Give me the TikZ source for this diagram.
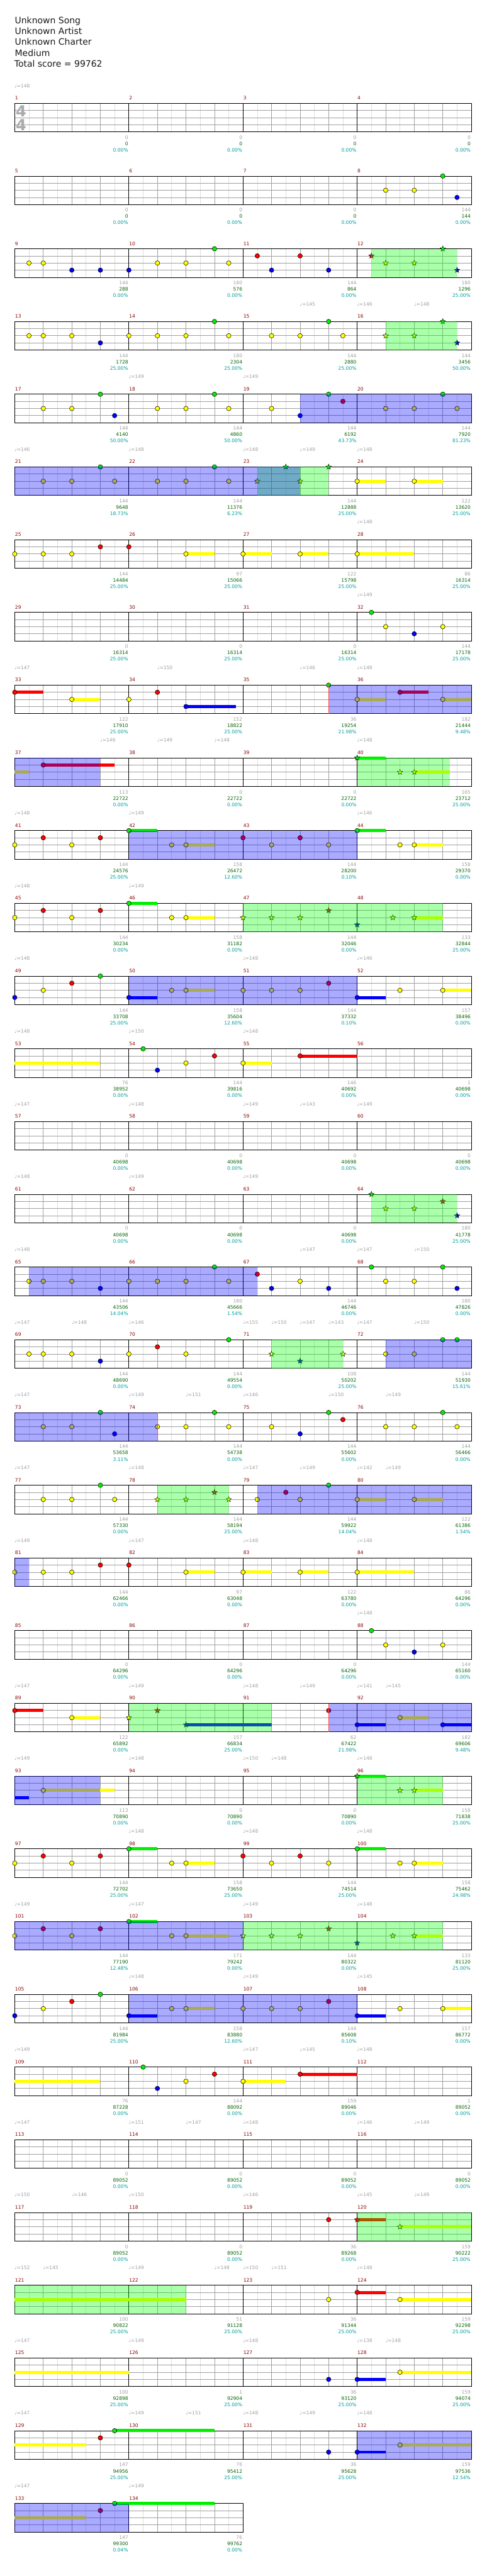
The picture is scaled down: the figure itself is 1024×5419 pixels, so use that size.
\documentclass[tikz,border=0pt]{standalone}
\usepackage{fontspec}
\setmainfont{DejaVu Sans}
\usetikzlibrary{shapes.geometric}
\definecolor{cG}{HTML}{00F000}
\definecolor{cR}{HTML}{FF0000}
\definecolor{cY}{HTML}{FFFF00}
\definecolor{cB}{HTML}{0000FF}
\definecolor{regG}{HTML}{00FF00}
\definecolor{regB}{HTML}{0000FF}
\definecolor{lightc}{HTML}{DDDDDD}
\definecolor{beatc}{HTML}{A0A0A0}
\definecolor{mred}{HTML}{8B0000}
\definecolor{sgray}{HTML}{A0A0A0}
\definecolor{sgreen}{HTML}{006400}
\definecolor{scyan}{HTML}{009C9C}
\definecolor{tsigc}{HTML}{AAAAAA}
\def\lG{0}\def\lR{1}\def\lY{2}\def\lB{3}
\newcommand\mpos[2]{%
  \pgfmathtruncatemacro\mc{mod(#1-1,4)}%
  \pgfmathtruncatemacro\mr{(#1-1)/4}%
  \pgfmathsetmacro\X{31+240*\mc+30*(#2)}%
  \pgfmathsetmacro\T{217.3+153*\mr}}
\newcommand\nt[3]{\mpos{#1}{#2}\pgfmathsetmacro\Y{\T+15*\csname l#3\endcsname}%
  \filldraw[fill=c#3,draw=black,line width=0.7pt] (\X,\Y) circle[radius=4.8];}
\newcommand\su[4]{\mpos{#1}{#2}\pgfmathsetmacro\Y{\T+15*\csname l#4\endcsname}%
  \fill[c#4] (\X,\Y-3.3) rectangle ++(30*#3,6.6);}
\newcommand\ns[4]{\su{#1}{#2}{#3}{#4}\nt{#1}{#2}{#4}}
\newcommand\st[3]{\mpos{#1}{#2}\pgfmathsetmacro\Y{\T+15*\csname l#3\endcsname}%
  \node[starnote,fill=c#3] at (\X,\Y) {};}
\newcommand\sts[4]{\su{#1}{#2}{#3}{#4}\st{#1}{#2}{#4}}
\newcommand\rgG[3]{\mpos{#1}{#2}\fill[regG,fill opacity=0.3333] (\X,\T) rectangle ++(30*#3,60);}
\newcommand\rgB[3]{\mpos{#1}{#2}\fill[regB,fill opacity=0.3333] (\X,\T) rectangle ++(30*#3,60);}
\newcommand\redl[2]{\mpos{#1}{#2}\draw[red!70,line width=0.8pt] (\X,\T) -- ++(0,60);}
\begin{document}
\begin{tikzpicture}[x=1pt,y=-1pt,
  lightl/.style={lightc,line width=1pt},
  beatl/.style={beatc,line width=1pt},
  barl/.style={black,line width=1pt},
  starnote/.style={star,star points=5,star point ratio=2.4,minimum size=12pt,inner sep=0pt,draw=black,line width=0.6pt},
  small/.style={font=\fontsize{10}{12}\selectfont,inner sep=0pt},
  mnum/.style={small,text=mred,anchor=base west},
  tempo/.style={small,text=sgray,anchor=base west},
  sc1/.style={small,text=sgray,anchor=base east},
  sc2/.style={small,text=sgreen,anchor=base east},
  sc3/.style={small,text=scyan,anchor=base east},
  hdr/.style={font=\fontsize{18.5}{22}\selectfont,inner sep=0pt,anchor=base west,text=black!90},
  tsig/.style={font=\fontsize{32}{34}\selectfont\bfseries,inner sep=0pt,text=tsigc}]
\useasboundingbox (0,0) rectangle (1024,5419);
\fill[white] (0,0) rectangle (1024,5419);
% header
\node[hdr] (title) at (31,49.3) {Unknown Song};
\node[hdr] (artist) at (31,72.2) {Unknown Artist};
\node[hdr] (charter) at (31,95.1) {Unknown Charter};
\node[hdr] (diff) at (31,118) {Medium};
\node[hdr] (total) at (30,140.9) {Total score = 99762};
% staves
\foreach \r in {0,...,33}{
  \pgfmathsetmacro\T{217.3+153*\r}
  \ifnum\r<33
    \foreach \xx in {61,121,...,961} \draw[lightl] (\xx,\T) -- ++(0,60);
    \foreach \xx in {91,151,211,331,391,451,571,631,691,811,871,931} \draw[beatl] (\xx,\T) -- ++(0,60);
    \foreach \yy in {15,30,45} \draw[beatl] (31,\T+\yy) -- (991,\T+\yy);
    \foreach \xx in {271,511,751} \draw[barl] (\xx,\T) -- ++(0,60);
    \draw[barl] (31,\T) rectangle (991,\T+60);
  \else
    \foreach \xx in {61,121,...,481} \draw[lightl] (\xx,\T) -- ++(0,60);
    \foreach \xx in {91,151,211,331,391,451} \draw[beatl] (\xx,\T) -- ++(0,60);
    \foreach \yy in {15,30,45} \draw[beatl] (31,\T+\yy) -- (511,\T+\yy);
    \draw[barl] (271,\T) -- ++(0,60);
    \draw[barl] (31,\T) rectangle (511,\T+60);
  \fi
}
\node[tsig] (ts1) at (44.5,233.5) {4};
\node[tsig] (ts2) at (44.5,263.5) {4};
% notes
\nt{8}{2}{Y}\nt{8}{4}{Y}\nt{8}{6}{G}\nt{8}{7}{B}
\nt{9}{1}{Y}\nt{9}{2}{Y}\nt{9}{4}{B}\nt{9}{6}{B}
\nt{10}{0}{B}\nt{10}{2}{Y}\nt{10}{4}{Y}\nt{10}{6}{G}\nt{10}{7}{Y}
\nt{11}{1}{R}\nt{11}{2}{B}\nt{11}{4}{R}\nt{11}{6}{B}
\st{12}{1}{R}\st{12}{2}{Y}\st{12}{4}{Y}\st{12}{6}{G}\st{12}{7}{B}
\nt{13}{1}{Y}\nt{13}{2}{Y}\nt{13}{4}{Y}\nt{13}{6}{B}
\nt{14}{0}{Y}\nt{14}{2}{Y}\nt{14}{4}{Y}\nt{14}{6}{G}\nt{14}{7}{Y}
\nt{15}{2}{Y}\nt{15}{4}{Y}\nt{15}{6}{G}\nt{15}{7}{Y}
\st{16}{2}{Y}\st{16}{4}{Y}\st{16}{6}{G}\st{16}{7}{B}
\nt{17}{2}{Y}\nt{17}{4}{Y}\nt{17}{6}{G}\nt{17}{7}{B}
\nt{18}{2}{Y}\nt{18}{4}{Y}\nt{18}{6}{G}\nt{18}{7}{Y}
\nt{19}{2}{Y}\nt{19}{4}{B}\nt{19}{6}{G}\nt{19}{7}{R}
\nt{20}{2}{Y}\nt{20}{4}{Y}\nt{20}{6}{G}\nt{20}{7}{Y}
\nt{21}{2}{Y}\nt{21}{4}{Y}\nt{21}{6}{G}\nt{21}{7}{Y}
\nt{22}{2}{Y}\nt{22}{4}{Y}\nt{22}{6}{G}\nt{22}{7}{Y}
\st{23}{1}{Y}\st{23}{3}{G}\st{23}{4}{Y}\st{23}{6}{G}
\ns{24}{0}{2}{Y}\ns{24}{4}{2}{Y}
\nt{25}{0}{Y}\nt{25}{2}{Y}\nt{25}{4}{Y}\nt{25}{6}{R}
\nt{26}{0}{R}\ns{26}{4}{2}{Y}
\ns{27}{0}{2}{Y}\ns{27}{4}{2}{Y}
\ns{28}{0}{4}{Y}
\nt{32}{1}{G}\nt{32}{2}{Y}\nt{32}{4}{B}\nt{32}{6}{Y}
\ns{33}{0}{2}{R}\ns{33}{4}{2}{Y}
\nt{34}{0}{Y}\nt{34}{2}{R}\ns{34}{4}{3.5}{B}
\nt{35}{6}{G}
\ns{36}{0}{2}{Y}\ns{36}{3}{2}{R}\ns{36}{6}{2}{Y}
\su{37}{0}{1}{Y}\ns{37}{2}{5}{R}
\sts{40}{0}{2}{G}\st{40}{3}{Y}\sts{40}{4}{2.5}{Y}
\nt{41}{0}{Y}\nt{41}{2}{R}\nt{41}{4}{Y}\nt{41}{6}{R}
\ns{42}{0}{2}{G}\nt{42}{3}{Y}\ns{42}{4}{2}{Y}
\nt{43}{0}{R}\nt{43}{2}{Y}\nt{43}{4}{R}\nt{43}{6}{Y}
\ns{44}{0}{2}{G}\nt{44}{3}{Y}\ns{44}{4}{2}{Y}
\nt{45}{0}{Y}\nt{45}{2}{R}\nt{45}{4}{Y}\nt{45}{6}{R}
\ns{46}{0}{2}{G}\nt{46}{3}{Y}\ns{46}{4}{2}{Y}
\st{47}{0}{Y}\st{47}{2}{Y}\st{47}{4}{Y}\st{47}{6}{R}
\st{48}{0}{B}\st{48}{2.5}{Y}\sts{48}{4}{2}{Y}
\nt{49}{0}{B}\nt{49}{2}{Y}\nt{49}{4}{R}\nt{49}{6}{G}
\ns{50}{0}{2}{B}\nt{50}{3}{Y}\ns{50}{4}{2}{Y}
\nt{51}{0}{Y}\nt{51}{2}{Y}\nt{51}{4}{Y}\nt{51}{6}{R}
\ns{52}{0}{2}{B}\nt{52}{3}{Y}\ns{52}{6}{2}{Y}
\su{53}{0}{6}{Y}
\nt{54}{1}{G}\nt{54}{2}{B}\nt{54}{4}{Y}\nt{54}{6}{R}
\ns{55}{0}{2}{Y}\ns{55}{4}{4}{R}
\st{64}{1}{G}\st{64}{2}{Y}\st{64}{4}{Y}\st{64}{6}{R}\st{64}{7}{B}
\nt{65}{1}{Y}\nt{65}{2}{Y}\nt{65}{4}{Y}\nt{65}{6}{B}
\nt{66}{0}{Y}\nt{66}{2}{Y}\nt{66}{4}{Y}\nt{66}{6}{G}\nt{66}{7}{Y}
\nt{67}{1}{R}\nt{67}{2}{B}\nt{67}{4}{Y}\nt{67}{6}{B}
\nt{68}{1}{G}\nt{68}{2}{Y}\nt{68}{4}{Y}\nt{68}{6}{G}\nt{68}{7}{B}
\nt{69}{1}{Y}\nt{69}{2}{Y}\nt{69}{4}{Y}\nt{69}{6}{B}
\nt{70}{0}{Y}\nt{70}{2}{R}\nt{70}{4}{Y}\nt{70}{7}{G}
\st{71}{2}{Y}\st{71}{4}{B}\st{71}{7}{Y}
\nt{72}{2}{Y}\nt{72}{4}{Y}\nt{72}{6}{G}\nt{72}{7}{G}
\nt{73}{2}{Y}\nt{73}{4}{Y}\nt{73}{6}{G}\nt{73}{7}{B}
\nt{74}{2}{Y}\nt{74}{4}{Y}\nt{74}{6}{G}\nt{74}{7}{Y}
\nt{75}{2}{Y}\nt{75}{4}{B}\nt{75}{6}{G}\nt{75}{7}{R}
\nt{76}{2}{Y}\nt{76}{4}{Y}\nt{76}{6}{G}\nt{76}{7}{Y}
\nt{77}{2}{Y}\nt{77}{4}{Y}\nt{77}{6}{G}\nt{77}{7}{Y}
\st{78}{2}{Y}\st{78}{4}{Y}\st{78}{6}{R}\st{78}{7}{Y}
\nt{79}{1}{Y}\nt{79}{3}{R}\nt{79}{4}{Y}\nt{79}{6}{G}
\ns{80}{0}{2}{Y}\ns{80}{4}{2}{Y}
\nt{81}{0}{Y}\nt{81}{2}{Y}\nt{81}{4}{Y}\nt{81}{6}{R}
\nt{82}{0}{R}\ns{82}{4}{2}{Y}
\ns{83}{0}{2}{Y}\ns{83}{4}{2}{Y}
\ns{84}{0}{4}{Y}
\nt{88}{1}{G}\nt{88}{2}{Y}\nt{88}{4}{B}\nt{88}{6}{Y}
\ns{89}{0}{2}{R}\ns{89}{4}{2}{Y}
\st{90}{0}{Y}\st{90}{2}{R}\sts{90}{4}{6}{B}
\nt{91}{6}{R}
\ns{92}{0}{2}{B}\ns{92}{3}{2}{Y}\ns{92}{6}{2}{B}
\su{93}{0}{1}{B}\ns{93}{2}{5}{Y}
\sts{96}{0}{2}{G}\st{96}{3}{Y}\sts{96}{4}{2}{Y}
\nt{97}{0}{Y}\nt{97}{2}{R}\nt{97}{4}{Y}\nt{97}{6}{R}
\ns{98}{0}{2}{G}\nt{98}{3}{Y}\ns{98}{4}{2}{Y}
\nt{99}{0}{R}\nt{99}{2}{Y}\nt{99}{4}{R}\nt{99}{6}{Y}
\ns{100}{0}{2}{G}\nt{100}{3}{Y}\ns{100}{4}{2}{Y}
\nt{101}{0}{Y}\nt{101}{2}{R}\nt{101}{4}{Y}\nt{101}{6}{R}
\ns{102}{0}{2}{G}\nt{102}{3}{Y}\ns{102}{4}{3}{Y}
\st{103}{0}{Y}\st{103}{2}{Y}\st{103}{4}{Y}\st{103}{6}{R}
\st{104}{0}{B}\st{104}{2.5}{Y}\sts{104}{4}{2}{Y}
\nt{105}{0}{B}\nt{105}{2}{Y}\nt{105}{4}{R}\nt{105}{6}{G}
\ns{106}{0}{2}{B}\nt{106}{3}{Y}\ns{106}{4}{2}{Y}
\nt{107}{0}{Y}\nt{107}{2}{Y}\nt{107}{4}{Y}\nt{107}{6}{R}
\ns{108}{0}{2}{B}\nt{108}{3}{Y}\ns{108}{6}{2}{Y}
\su{109}{0}{6}{Y}
\nt{110}{1}{G}\nt{110}{2}{B}\nt{110}{4}{Y}\nt{110}{6}{R}
\ns{111}{0}{3}{Y}\ns{111}{4}{4}{R}
\nt{119}{6}{R}
\sts{120}{0}{2}{R}\sts{120}{3}{5}{Y}
\su{121}{0}{12}{Y}
\nt{123}{6}{Y}
\ns{124}{0}{2}{R}\ns{124}{3}{5}{Y}
\su{125}{0}{8}{Y}
\nt{127}{6}{B}
\ns{128}{0}{2}{B}\ns{128}{3}{5}{Y}
\su{129}{0}{5}{Y}\nt{129}{6}{R}\ns{129}{7}{7}{G}
\nt{131}{6}{B}
\ns{132}{0}{2}{B}\ns{132}{3}{5}{Y}
\su{133}{0}{5}{Y}\nt{133}{6}{R}\ns{133}{7}{7}{G}
% regions (green first, then blue)
\rgG{12}{1}{6}\rgG{16}{2}{5}\rgG{23}{1}{5}\rgG{40}{0}{6.5}\rgG{47}{0}{14}
\rgG{64}{1}{6}\rgG{71}{2}{5}\rgG{78}{2}{5}\rgG{90}{0}{10}\rgG{96}{0}{6}
\rgG{103}{0}{14}\rgG{120}{0}{8}\rgG{121}{0}{12}
\rgB{19}{4}{12}\rgB{21}{0}{20}\rgB{35}{6}{10}\rgB{37}{0}{6}\rgB{42}{0}{16}
\rgB{50}{0}{16}\rgB{65}{1}{16}\rgB{72}{2}{6}\rgB{73}{0}{10}\rgB{79}{1}{15}
\rgB{81}{0}{1}\rgB{91}{6}{10}\rgB{93}{0}{6}\rgB{101}{0}{16}\rgB{106}{0}{16}
\rgB{132}{0}{8}\rgB{133}{0}{8}
\redl{35}{6}\redl{74}{2}\redl{91}{6}
% measure numbers
\foreach \m in {1,...,134}{\mpos{\m}{0}\node[mnum] at (\X+0.5,\T-7.3) {\m};}
% tempo marks
\foreach \m/\p/\b in {1/0/148,15/4/145,16/0/146,16/4/148,18/0/149,19/0/149,
 21/0/146,22/0/148,23/0/148,23/4/149,24/0/148,28/0/148,32/0/149,
 33/0/147,34/2/150,35/4/146,36/0/148,37/6/146,38/2/149,38/6/148,40/0/148,
 41/0/148,42/0/149,44/0/146,45/0/148,46/0/149,49/0/148,51/0/148,52/0/146,
 53/0/148,54/0/150,55/0/148,57/0/147,58/0/148,59/0/149,59/4/143,60/0/149,
 61/0/148,62/0/149,63/0/149,65/0/148,67/4/147,68/0/147,68/4/150,
 69/0/147,69/4/148,70/0/146,71/0/155,71/2/150,71/4/147,71/6/143,72/0/147,72/4/150,
 73/0/147,74/0/149,74/4/151,75/0/146,75/6/150,76/2/149,
 77/0/147,78/0/148,79/0/147,79/4/149,80/0/142,80/2/149,
 81/0/149,82/0/147,83/0/148,84/0/148,88/0/148,
 89/0/147,90/0/149,91/0/148,91/4/149,92/0/141,92/2/145,
 93/0/149,94/0/148,95/0/150,95/2/148,96/0/148,
 98/0/148,99/0/148,100/0/148,101/0/149,102/0/147,103/0/149,104/0/148,
 106/0/148,107/0/149,108/0/145,109/0/149,111/0/147,111/4/145,112/0/148,
 113/0/147,114/0/151,114/4/147,115/0/148,116/0/146,116/4/149,
 117/0/150,117/4/146,118/0/150,119/0/146,120/0/145,120/4/149,
 121/0/152,121/2/145,122/0/149,122/6/148,123/0/150,123/2/151,124/0/148,
 125/0/147,126/0/149,127/0/148,128/0/138,128/2/148,
 129/0/147,130/0/149,130/4/151,131/0/148,131/4/149,132/0/148,
 133/0/147,134/0/149}{\mpos{\m}{\p}\node[tempo] at (\X-0.5,\T-33.3) {♩=\b};}
% scores
\foreach \m/\a/\b/\c in {1/0/0/0.00,2/0/0/0.00,3/0/0/0.00,4/0/0/0.00,
 5/0/0/0.00,6/0/0/0.00,7/0/0/0.00,8/144/144/0.00,
 9/144/288/0.00,10/180/576/0.00,11/144/864/0.00,12/180/1296/25.00,
 13/144/1728/25.00,14/180/2304/25.00,15/144/2880/25.00,16/144/3456/50.00,
 17/144/4140/50.00,18/144/4860/50.00,19/144/6192/43.73,20/144/7920/81.23,
 21/144/9648/18.73,22/144/11376/6.23,23/144/12888/25.00,24/122/13620/25.00,
 25/144/14484/25.00,26/97/15066/25.00,27/122/15798/25.00,28/86/16314/25.00,
 29/0/16314/25.00,30/0/16314/25.00,31/0/16314/25.00,32/144/17178/25.00,
 33/122/17910/25.00,34/152/18822/25.00,35/36/19254/21.98,36/182/21444/9.48,
 37/113/22722/0.00,38/0/22722/0.00,39/0/22722/0.00,40/165/23712/25.00,
 41/144/24576/25.00,42/158/26472/12.60,43/144/28200/0.10,44/158/29370/0.00,
 45/144/30234/0.00,46/158/31182/0.00,47/144/32046/0.00,48/133/32844/25.00,
 49/144/33708/25.00,50/158/35604/12.60,51/144/37332/0.10,52/157/38496/0.00,
 53/76/38952/0.00,54/144/39816/0.00,55/146/40692/0.00,56/1/40698/0.00,
 57/0/40698/0.00,58/0/40698/0.00,59/0/40698/0.00,60/0/40698/0.00,
 61/0/40698/0.00,62/0/40698/0.00,63/0/40698/0.00,64/180/41778/25.00,
 65/144/43506/14.04,66/180/45666/1.54,67/144/46746/0.00,68/180/47826/0.00,
 69/144/48690/0.00,70/144/49554/0.00,71/108/50202/25.00,72/144/51930/15.61,
 73/144/53658/3.11,74/144/54738/0.00,75/144/55602/0.00,76/144/56466/0.00,
 77/144/57330/0.00,78/144/58194/25.00,79/144/59922/14.04,80/122/61386/1.54,
 81/144/62466/0.00,82/97/63048/0.00,83/122/63780/0.00,84/86/64296/0.00,
 85/0/64296/0.00,86/0/64296/0.00,87/0/64296/0.00,88/144/65160/0.00,
 89/122/65892/0.00,90/157/66834/25.00,91/62/67422/21.98,92/182/69606/9.48,
 93/113/70890/0.00,94/0/70890/0.00,95/0/70890/0.00,96/158/71838/25.00,
 97/144/72702/25.00,98/158/73650/25.00,99/144/74514/25.00,100/158/75462/24.98,
 101/144/77190/12.48,102/171/79242/0.00,103/144/80322/0.00,104/133/81120/25.00,
 105/144/81984/25.00,106/158/83880/12.60,107/144/85608/0.10,108/157/86772/0.00,
 109/76/87228/0.00,110/144/88092/0.00,111/159/89046/0.00,112/1/89052/0.00,
 113/0/89052/0.00,114/0/89052/0.00,115/0/89052/0.00,116/0/89052/0.00,
 117/0/89052/0.00,118/0/89052/0.00,119/36/89268/0.00,120/159/90222/25.00,
 121/100/90822/25.00,122/51/91128/25.00,123/36/91344/25.00,124/159/92298/25.00,
 125/100/92898/25.00,126/1/92904/25.00,127/36/93120/25.00,128/159/94074/25.00,
 129/147/94956/25.00,130/76/95412/25.00,131/36/95628/25.00,132/159/97536/12.54,
 133/147/99300/0.04,134/76/99762/0.00}{%
 \mpos{\m}{8}%
 \node[sc1] at (\X-1.3,\T+75.4) {\a};
 \node[sc2] at (\X-1.3,\T+88.7) {\b};
 \node[sc3] at (\X-1.3,\T+102) {\c\%};}
\end{tikzpicture}
\end{document}
